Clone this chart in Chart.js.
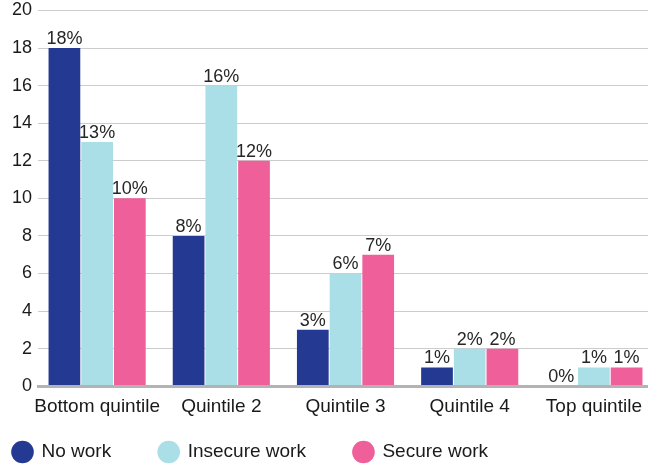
<!DOCTYPE html>
<html>
<head>
<meta charset="utf-8">
<script src="https://cdn.jsdelivr.net/npm/chart.js@4/dist/chart.umd.min.js"></script>
<style>
  html, body { margin: 0; padding: 0; background: #ffffff; }
  #wrap { width: 648px; height: 464px; position: relative; }
</style>
</head>
<body>
<div id="wrap"><canvas id="c"></canvas></div>
<script>
const categories = ['Bottom quintile', 'Quintile 2', 'Quintile 3', 'Quintile 4', 'Top quintile'];
const seriesNames = ['No work', 'Insecure work', 'Secure work'];
const noWork = [18, 8, 3, 1, 0];
const insecureWork = [13, 16, 6, 2, 1];
const secureWork = [10, 12, 7, 2, 1];
const yTicks = [0, 2, 4, 6, 8, 10, 12, 14, 16, 18, 20];

const colors = ['#243a92', '#aadfe8', '#ef5f99'];
const FONT = "'Liberation Sans', Arial, Helvetica, sans-serif";

const valueLabels = {
  id: 'valueLabels',
  afterDatasetsDraw(chart) {
    const ctx = chart.ctx;
    ctx.save();
    ctx.font = '18px ' + FONT;
    ctx.fillStyle = '#262626';
    ctx.textAlign = 'center';
    ctx.textBaseline = 'alphabetic';
    chart.data.datasets.forEach((ds, di) => {
      const meta = chart.getDatasetMeta(di);
      meta.data.forEach((bar, i) => {
        ctx.fillText(ds.data[i] + '%', bar.x, bar.y - 4);
      });
    });
    ctx.restore();
  }
};

// Fine placement of the legend row, the category band and the value range
const layoutTweak = {
  id: 'layoutTweak',
  afterLayout(chart) {
    const l = chart.legend;
    if (l) {
      l.left = -35;
      l.right = 648;
      l.top = 394.5;
      l.bottom = 464;
    }
    const a = chart.chartArea;
    const xs = chart.scales.x;
    xs._startPixel = a.left - 3;
    xs._endPixel = a.right + 8;
    xs._length = xs._endPixel - xs._startPixel;
    const ys = chart.scales.y;
    ys._startPixel = 10.5;
    ys._length = ys._endPixel - ys._startPixel;
  }
};

new Chart(document.getElementById('c'), {
  type: 'bar',
  data: {
    labels: categories,
    datasets: [
      { label: seriesNames[0], data: noWork, backgroundColor: colors[0] },
      { label: seriesNames[1], data: insecureWork, backgroundColor: colors[1] },
      { label: seriesNames[2], data: secureWork, backgroundColor: colors[2] }
    ]
  },
  options: {
    responsive: true,
    maintainAspectRatio: false,
    animation: false,
    devicePixelRatio: 1,
    layout: { autoPadding: false, padding: { left: 6, right: 0, top: 6, bottom: 0 } },
    datasets: { bar: { categoryPercentage: 0.79, barPercentage: 0.97 } },
    scales: {
      x: {
        grid: { display: false },
        border: { display: true, color: '#b3b3b3', width: 3, z: 1 },
        ticks: {
          font: { family: FONT, size: 19 },
          color: '#1a1a1a',
          padding: 1,
          maxRotation: 0,
          minRotation: 0,
          autoSkip: false
        }
      },
      y: {
        min: 0,
        max: 20,
        afterBuildTicks(scale) { scale.ticks = yTicks.map(v => ({ value: v })); },
        grid: { color: '#cccccc', lineWidth: 1, drawTicks: false },
        border: { display: false },
        ticks: {
          font: { family: FONT, size: 18 },
          color: '#1a1a1a',
          padding: 6
        }
      }
    },
    plugins: {
      tooltip: { enabled: false },
      legend: {
        position: 'bottom',
        align: 'start',
        maxHeight: 45,
        labels: {
          usePointStyle: true,
          pointStyle: 'circle',
          boxWidth: 19,
          boxHeight: 16,
          padding: 48,
          color: '#1a1a1a',
          font: { family: FONT, size: 19 }
        }
      }
    }
  },
  plugins: [valueLabels, layoutTweak]
});
</script>
</body>
</html>
